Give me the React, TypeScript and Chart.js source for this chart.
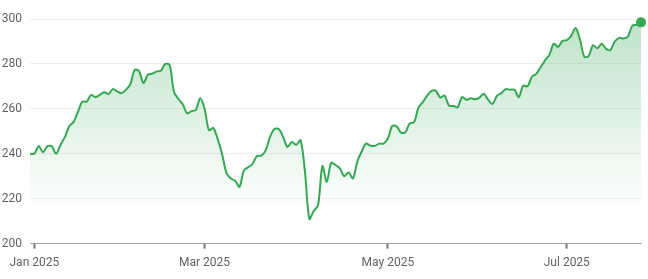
import React, { useEffect, useRef } from "react";
import { Chart, registerables } from "chart.js";

Chart.register(...registerables);

// Trading-day months covered by the series and number of sessions in each
const months = ["Dec 2024", "Jan 2025", "Feb 2025", "Mar 2025", "Apr 2025", "May 2025", "Jun 2025", "Jul 2025"];
const sessionsPerMonth = [1, 20, 19, 21, 21, 21, 20, 18];
const tickMonths = ["Jan 2025", "Mar 2025", "May 2025", "Jul 2025"];

// Closing values (one per trading session)
const prices = [
  240, 240, 243.4, 240.7, 243.4, 243.2, 240, 244, 247.5, 252.3,
  254.2, 258.7, 263.2, 263.2, 266.2, 265.2, 266.2, 267.4, 266.6, 268.8,
  267.7, 267, 268.5, 271, 277.4, 276.7, 271.5, 275.2, 275.6, 276.7,
  277, 280, 279.5, 267.5, 264.5, 262, 258, 259, 259.5, 264.7,
  260, 250.5, 251.5, 246.5, 240, 231.5, 229, 228, 225.3, 232.5,
  234, 235.5, 239, 239.2, 241.5, 247.5, 251, 251, 247.5, 243,
  245.2, 244, 246, 232, 211, 214.5, 217, 234.5, 227.5, 236,
  235, 233.5, 230, 231.7, 229, 236.5, 241, 244.5, 243.6, 243.5,
  244.5, 244.5, 246.8, 252.4, 252.2, 249.4, 249.5, 253.5, 254, 260.5,
  263, 265.9, 268, 268, 265, 265.9, 261.4, 261.3, 260.7, 265.3,
  264, 264.7, 264.3, 265, 266.7, 264, 262.2, 265.8, 267, 268.8,
  268.5, 268.5, 265.2, 270.3, 270, 274.2, 275.6, 278.5, 281.6, 284,
  289, 287.5, 290.2, 290.6, 292.5, 296, 291, 283.2, 283.5, 288.3,
  287, 289, 286.7, 286.2, 290, 291.6, 291.3, 292.2, 297, 297.4,
  298.5,
];

const yTicks = [200, 220, 240, 260, 280, 300];

const labels: string[] = [];
const monthStart: boolean[] = [];
months.forEach((m, mi) => {
  for (let k = 0; k < sessionsPerMonth[mi]; k++) {
    labels.push(m);
    monthStart.push(k === 0);
  }
});

const GREEN = "#34a853";

export default function App() {
  const ref = useRef<HTMLCanvasElement | null>(null);

  useEffect(() => {
    if (!ref.current) return;
    const chart = new Chart(ref.current, {
      type: "line",
      data: {
        labels,
        datasets: [
          {
            data: prices,
            borderColor: GREEN,
            borderWidth: 2,
            tension: 0.3,
            clip: false as any,
            fill: "origin",
            backgroundColor: (ctx: any) => {
              const area = ctx.chart.chartArea;
              if (!area) return "rgba(52,168,83,0.2)";
              const g = ctx.chart.ctx.createLinearGradient(0, area.top, 0, area.bottom);
              g.addColorStop(0, "rgba(52,168,83,0.32)");
              g.addColorStop(0.85, "rgba(52,168,83,0.0)");
              g.addColorStop(1, "rgba(52,168,83,0.0)");
              return g;
            },
            pointRadius: prices.map((_, i) => (i === prices.length - 1 ? 5 : 0)),
            pointHoverRadius: 0,
            pointBackgroundColor: GREEN,
            pointBorderWidth: 0,
          },
        ],
      },
      options: {
        animation: false,
        responsive: false,
        devicePixelRatio: 1,
        layout: { padding: { left: 2, right: 7, top: 19, bottom: 2 } },
        plugins: { legend: { display: false }, tooltip: { enabled: false } },
        scales: {
          x: {
            type: "category",
            offset: false,
            border: { display: true, color: "#9aa0a6", width: 1 },
            grid: {
              drawOnChartArea: false,
              drawTicks: true,
              tickLength: 5,
              tickWidth: 2,
              tickColor: "#70757a",
            },
            afterFit: (axis: any) => {
              axis.paddingLeft = 0;
              axis.paddingRight = 0;
            },
            ticks: {
              autoSkip: false,
              maxRotation: 0,
              padding: 7,
              color: "#5f6368",
              font: { family: "Roboto", size: 12 },
              callback: (_v: any, i: number) =>
                monthStart[i] && tickMonths.includes(labels[i]) ? labels[i] : null,
            },
          },
          y: {
            position: "left",
            min: 200,
            max: 300,
            afterBuildTicks: (axis: any) => {
              axis.ticks = yTicks.map((v) => ({ value: v }));
            },
            afterFit: (axis: any) => {
              axis.width = 28;
            },
            border: { display: false },
            grid: { color: "#eeeeee", drawTicks: false, lineWidth: 1 },
            ticks: {
              padding: 8,
              color: "#5f6368",
              font: { family: "Roboto", size: 12 },
            },
          },
        },
      },
    });
    return () => chart.destroy();
  }, []);

  return (
    <div style={{ position: "fixed", left: 0, top: 0, width: 648, height: 279, background: "#fff" }}>
      <canvas ref={ref} width={648} height={279} style={{ display: "block" }} />
    </div>
  );
}
